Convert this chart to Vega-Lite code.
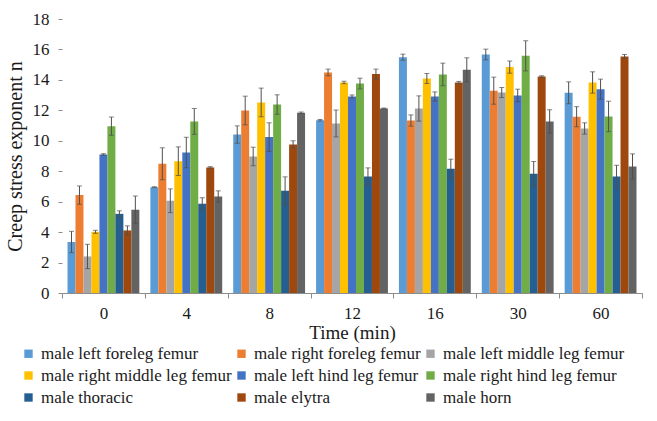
{
  "$schema": "https://vega.github.io/schema/vega-lite/v6.json",
  "width": 580,
  "height": 274,
  "autosize": "none",
  "padding": {"left": 62, "top": 19, "right": 15, "bottom": 128},
  "background": "white",
  "config": {
    "font": "Liberation Serif",
    "view": {"stroke": null},
    "style": {"guide-label": {"font": "Liberation Serif"}, "guide-title": {"font": "Liberation Serif"}},
    "axis": {"labelFont": "Liberation Serif", "titleFont": "Liberation Serif", "labelColor": "#1a1a1a", "titleColor": "#1a1a1a", "titleFontWeight": "normal", "grid": false, "labelOverlap": false},
    "axisY": {"values": [0, 2, 4, 6, 8, 10, 12, 14, 16, 18], "labelOverlap": false, "labelBound": false, "labelFlush": false, "domain": false, "tickColor": "#8c8c8c", "tickSize": 4, "labelPadding": 9, "labelFontSize": 17, "titleFontSize": 20, "titlePadding": 7},
    "legend": {"labelFont": "Liberation Serif", "titleFont": "Liberation Serif"}
  },
  "data": {"values": [
    {"t": "0", "s": "male left foreleg femur", "v": 3.35, "lo": 2.65, "hi": 4.05},
    {"t": "0", "s": "male right foreleg femur", "v": 6.43, "lo": 5.83, "hi": 7.03},
    {"t": "0", "s": "male left middle leg femur", "v": 2.40, "lo": 1.60, "hi": 3.20},
    {"t": "0", "s": "male right middle leg femur", "v": 4.02, "lo": 3.92, "hi": 4.12},
    {"t": "0", "s": "male left hind leg femur", "v": 9.10, "lo": 9.05, "hi": 9.15},
    {"t": "0", "s": "male right hind leg femur", "v": 10.96, "lo": 10.36, "hi": 11.56},
    {"t": "0", "s": "male thoracic", "v": 5.20, "lo": 5.00, "hi": 5.40},
    {"t": "0", "s": "male elytra", "v": 4.11, "lo": 3.81, "hi": 4.41},
    {"t": "0", "s": "male horn", "v": 5.47, "lo": 4.57, "hi": 6.37},
    {"t": "4", "s": "male left foreleg femur", "v": 6.95, "lo": 6.92, "hi": 6.98},
    {"t": "4", "s": "male right foreleg femur", "v": 8.49, "lo": 7.44, "hi": 9.54},
    {"t": "4", "s": "male left middle leg femur", "v": 6.06, "lo": 5.28, "hi": 6.84},
    {"t": "4", "s": "male right middle leg femur", "v": 8.66, "lo": 7.72, "hi": 9.60},
    {"t": "4", "s": "male left hind leg femur", "v": 9.23, "lo": 8.23, "hi": 10.23},
    {"t": "4", "s": "male right hind leg femur", "v": 11.27, "lo": 10.42, "hi": 12.12},
    {"t": "4", "s": "male thoracic", "v": 5.86, "lo": 5.46, "hi": 6.26},
    {"t": "4", "s": "male elytra", "v": 8.25, "lo": 8.20, "hi": 8.30},
    {"t": "4", "s": "male horn", "v": 6.34, "lo": 5.97, "hi": 6.71},
    {"t": "8", "s": "male left foreleg femur", "v": 10.41, "lo": 9.84, "hi": 10.98},
    {"t": "8", "s": "male right foreleg femur", "v": 11.99, "lo": 11.05, "hi": 12.93},
    {"t": "8", "s": "male left middle leg femur", "v": 8.97, "lo": 8.36, "hi": 9.58},
    {"t": "8", "s": "male right middle leg femur", "v": 12.52, "lo": 11.58, "hi": 13.46},
    {"t": "8", "s": "male left hind leg femur", "v": 10.24, "lo": 9.30, "hi": 11.18},
    {"t": "8", "s": "male right hind leg femur", "v": 12.38, "lo": 11.74, "hi": 13.02},
    {"t": "8", "s": "male thoracic", "v": 6.71, "lo": 5.79, "hi": 7.63},
    {"t": "8", "s": "male elytra", "v": 9.76, "lo": 9.52, "hi": 10.00},
    {"t": "8", "s": "male horn", "v": 11.84, "lo": 11.79, "hi": 11.89},
    {"t": "12", "s": "male left foreleg femur", "v": 11.35, "lo": 11.30, "hi": 11.40},
    {"t": "12", "s": "male right foreleg femur", "v": 14.49, "lo": 14.27, "hi": 14.71},
    {"t": "12", "s": "male left middle leg femur", "v": 11.14, "lo": 10.26, "hi": 12.02},
    {"t": "12", "s": "male right middle leg femur", "v": 13.83, "lo": 13.75, "hi": 13.91},
    {"t": "12", "s": "male left hind leg femur", "v": 12.91, "lo": 12.81, "hi": 13.01},
    {"t": "12", "s": "male right hind leg femur", "v": 13.76, "lo": 13.41, "hi": 14.11},
    {"t": "12", "s": "male thoracic", "v": 7.65, "lo": 7.08, "hi": 8.22},
    {"t": "12", "s": "male elytra", "v": 14.38, "lo": 14.05, "hi": 14.71},
    {"t": "12", "s": "male horn", "v": 12.12, "lo": 12.09, "hi": 12.15},
    {"t": "16", "s": "male left foreleg femur", "v": 15.49, "lo": 15.29, "hi": 15.69},
    {"t": "16", "s": "male right foreleg femur", "v": 11.33, "lo": 10.96, "hi": 11.70},
    {"t": "16", "s": "male left middle leg femur", "v": 12.12, "lo": 11.29, "hi": 12.95},
    {"t": "16", "s": "male right middle leg femur", "v": 14.09, "lo": 13.76, "hi": 14.42},
    {"t": "16", "s": "male left hind leg femur", "v": 12.91, "lo": 12.61, "hi": 13.21},
    {"t": "16", "s": "male right hind leg femur", "v": 14.36, "lo": 13.62, "hi": 15.10},
    {"t": "16", "s": "male thoracic", "v": 8.16, "lo": 7.53, "hi": 8.79},
    {"t": "16", "s": "male elytra", "v": 13.83, "lo": 13.76, "hi": 13.90},
    {"t": "16", "s": "male horn", "v": 14.66, "lo": 13.87, "hi": 15.45},
    {"t": "30", "s": "male left foreleg femur", "v": 15.67, "lo": 15.32, "hi": 16.02},
    {"t": "30", "s": "male right foreleg femur", "v": 13.29, "lo": 12.40, "hi": 14.18},
    {"t": "30", "s": "male left middle leg femur", "v": 13.17, "lo": 12.84, "hi": 13.50},
    {"t": "30", "s": "male right middle leg femur", "v": 14.84, "lo": 14.44, "hi": 15.24},
    {"t": "30", "s": "male left hind leg femur", "v": 12.98, "lo": 12.57, "hi": 13.39},
    {"t": "30", "s": "male right hind leg femur", "v": 15.58, "lo": 14.59, "hi": 16.57},
    {"t": "30", "s": "male thoracic", "v": 7.83, "lo": 7.02, "hi": 8.64},
    {"t": "30", "s": "male elytra", "v": 14.22, "lo": 14.17, "hi": 14.27},
    {"t": "30", "s": "male horn", "v": 11.27, "lo": 10.50, "hi": 12.04},
    {"t": "60", "s": "male left foreleg femur", "v": 13.15, "lo": 12.43, "hi": 13.87},
    {"t": "60", "s": "male right foreleg femur", "v": 11.58, "lo": 10.92, "hi": 12.24},
    {"t": "60", "s": "male left middle leg femur", "v": 10.81, "lo": 10.44, "hi": 11.18},
    {"t": "60", "s": "male right middle leg femur", "v": 13.83, "lo": 13.13, "hi": 14.53},
    {"t": "60", "s": "male left hind leg femur", "v": 13.39, "lo": 12.73, "hi": 14.05},
    {"t": "60", "s": "male right hind leg femur", "v": 11.60, "lo": 10.60, "hi": 12.60},
    {"t": "60", "s": "male thoracic", "v": 7.65, "lo": 6.91, "hi": 8.39},
    {"t": "60", "s": "male elytra", "v": 15.54, "lo": 15.41, "hi": 15.67},
    {"t": "60", "s": "male horn", "v": 8.31, "lo": 7.48, "hi": 9.14}
  ]},
  "encoding": {
    "x": {
      "field": "t", "type": "nominal", "sort": ["0", "4", "8", "12", "16", "30", "60"],
      "scale": {"paddingInner": 0, "paddingOuter": 0},
      "axis": {"title": "Time (min)", "labelAngle": 0, "tickBand": "extent", "domainColor": "#8c8c8c", "tickColor": "#8c8c8c", "tickSize": 5, "labelPadding": 7, "labelFontSize": 17, "titleFontSize": 19, "titlePadding": 2}
    },
    "xOffset": {
      "field": "s", "type": "nominal",
      "sort": ["male left foreleg femur", "male right foreleg femur", "male left middle leg femur", "male right middle leg femur", "male left hind leg femur", "male right hind leg femur", "male thoracic", "male elytra", "male horn"],
      "scale": {"paddingInner": 0, "paddingOuter": 0.69}
    }
  },
  "layer": [
    {
      "mark": {"type": "bar"},
      "encoding": {
        "y": {"field": "v", "type": "quantitative", "scale": {"domain": [0, 18]}, "title": "Creep stress exponent n"},
        "color": {
          "field": "s", "type": "nominal",
          "sort": ["male left foreleg femur", "male right foreleg femur", "male left middle leg femur", "male right middle leg femur", "male left hind leg femur", "male right hind leg femur", "male thoracic", "male elytra", "male horn"],
          "scale": {"range": ["#5B9BD5", "#ED7D31", "#A5A5A5", "#FFC000", "#4472C4", "#70AD47", "#255E91", "#9E480E", "#636363"]},
          "legend": {"title": null, "orient": "none", "legendX": -42, "legendY": 326, "columns": 3, "direction": "horizontal", "symbolType": "square", "symbolSize": 70, "symbolStrokeWidth": 0, "labelFontSize": 17, "labelFont": "Liberation Serif", "labelColor": "#1a1a1a", "rowPadding": 4, "columnPadding": 1, "labelLimit": 300, "labelOffset": 4}
        }
      }
    },
    {
      "mark": {"type": "rule", "color": "#505050", "strokeWidth": 1},
      "encoding": {"y": {"field": "lo", "type": "quantitative", "title": "Creep stress exponent n"}, "y2": {"field": "hi"}}
    },
    {
      "mark": {"type": "tick", "color": "#505050", "thickness": 1, "size": 5, "orient": "horizontal"},
      "encoding": {"y": {"field": "lo", "type": "quantitative", "title": "Creep stress exponent n"}}
    },
    {
      "mark": {"type": "tick", "color": "#505050", "thickness": 1, "size": 5, "orient": "horizontal"},
      "encoding": {"y": {"field": "hi", "type": "quantitative", "title": "Creep stress exponent n"}}
    }
  ]
}
